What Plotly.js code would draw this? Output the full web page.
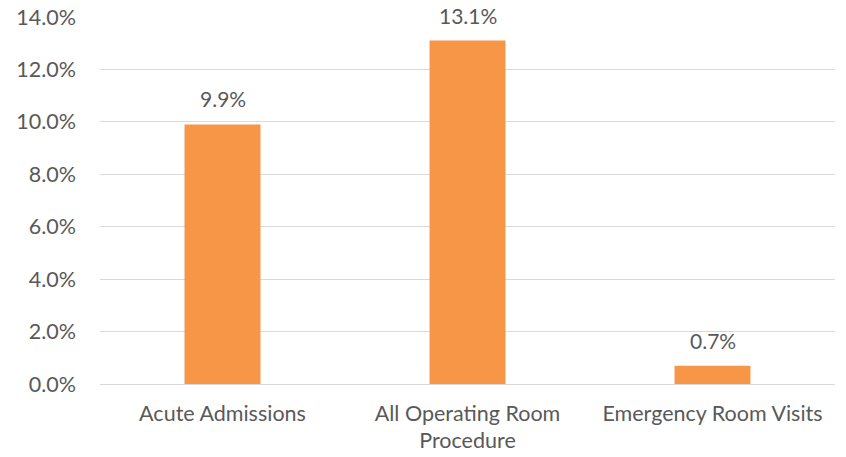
<!DOCTYPE html>
<html>
<head>
<meta charset="utf-8">
<script src="https://cdn.plot.ly/plotly-3.0.1.min.js"></script>
<style>html,body{margin:0;padding:0;background:#fff;}#chart{width:846px;height:457px;}</style>
</head>
<body>
<div id="chart"></div>
<script>
const categories = ["Acute Admissions", "All Operating Room Procedure", "Emergency Room Visits"];
const tickLabels = ["Acute Admissions", "All Operating Room<br>Procedure", "Emergency Room Visits"];
const values = [0.099, 0.131, 0.007];
const valueLabels = ["9.9%", "13.1%", "0.7%"];
const yTicks = [0, 0.02, 0.04, 0.06, 0.08, 0.10, 0.12, 0.14];

const fontFamily = "Lato, 'Open Sans', sans-serif";
const textColor = "#595959";

const trace = {
  type: "bar",
  x: categories,
  y: values,
  marker: {color: "#F79646"},
  width: 0.31,
  hoverinfo: "none"
};

const annotations = categories.map((c, i) => ({
  x: c, y: values[i], text: valueLabels[i],
  showarrow: false, yanchor: "bottom", yshift: 11,
  font: {family: fontFamily, size: 21, color: textColor}
}));

const layout = {
  width: 846, height: 457,
  margin: {l: 100, r: 11, t: 17, b: 73},
  paper_bgcolor: "#ffffff", plot_bgcolor: "#ffffff",
  showlegend: false,
  bargap: 0.69,
  xaxis: {
    type: "category",
    tickvals: categories, ticktext: tickLabels,
    showgrid: false, showline: false, zeroline: false,
    ticks: "", tickfont: {family: fontFamily, size: 21.5, color: textColor},
    ticklabelstandoff: 14
  },
  yaxis: {
    range: [0, 0.14],
    tickvals: yTicks, tickformat: ".1%",
    showgrid: true, gridcolor: "#d9d9d9", gridwidth: 1,
    zeroline: true, zerolinecolor: "#d9d9d9", zerolinewidth: 1,
    showline: false, ticks: "",
    tickfont: {family: fontFamily, size: 21.5, color: textColor},
    ticklabelstandoff: 23
  },
  annotations: annotations
};

Plotly.newPlot("chart", [trace], layout, {staticPlot: true, displayModeBar: false});
</script>
</body>
</html>
